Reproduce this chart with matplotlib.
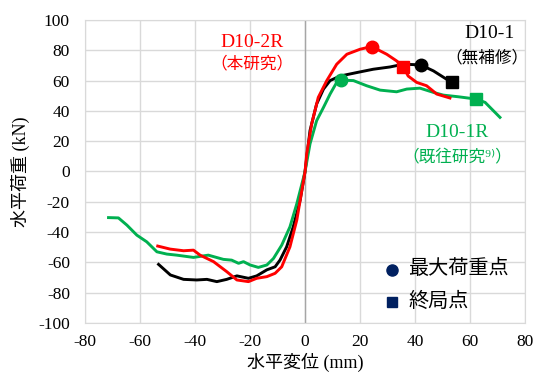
import matplotlib
matplotlib.use("Agg")
import matplotlib.pyplot as plt

plt.rcParams["font.family"] = ["Liberation Serif", "Noto Sans CJK JP", "DejaVu Sans"]
plt.rcParams["axes.unicode_minus"] = False

# D10-1 (black)
x_d101 = [-53.3, -49.0, -44.2, -39.4, -35.7, -32.1, -28.5, -24.8, -20.6, -17.6, -13.9,
          -10.9, -9.1, -6.7, -4.3, -1.8, 0.0, 1.8, 4.2, 6.7, 9.1, 12.7, 18.8, 24.8,
          30.9, 35.7, 42.0, 46.7, 53.3]
y_d101 = [-61.4, -68.4, -71.3, -71.7, -71.3, -72.8, -71.3, -69.0, -70.6, -69.0, -65.0,
          -63.0, -58.5, -49.8, -36.6, -19.0, 0.0, 27.0, 44.5, 54.4, 60.0, 63.0, 65.3, 67.5,
          69.0, 70.8, 70.4, 66.4, 58.8]

# D10-2R (red)
x_d102r = [-53.6, -49.1, -44.2, -40.6, -38.2, -33.3, -28.5, -24.8, -20.6, -17.6, -13.9,
           -10.9, -8.5, -5.5, -3.0, 0.0, 0.6, 2.4, 4.8, 7.9, 11.5, 15.2, 20.0, 24.2,
           29.7, 33.3, 35.8, 37.5, 40.6, 44.2, 47.9, 52.7]
y_d102r = [-49.3, -51.3, -52.4, -52.0, -55.3, -59.6, -66.2, -71.7, -72.8, -70.6, -69.5,
           -67.3, -63.0, -49.8, -32.0, 0.0, 11.6, 31.4, 48.9, 60.0, 70.8, 77.4, 80.7, 82.5,
           77.4, 73.0, 69.0, 63.0, 58.8, 56.6, 51.1, 48.5]

# D10-1R (green)
x_d101r = [-71.5, -67.9, -64.8, -61.2, -57.6, -53.9, -50.3, -46.7, -40.6, -35.2, -29.7,
           -26.7, -24.2, -22.4, -20.0, -17.0, -13.9, -11.5, -8.5, -5.5, -3.0, 0.0, 1.8,
           4.2, 6.7, 9.1, 11.5, 13.0, 17.6, 22.4, 27.3, 33.3, 37.0, 41.8, 46.7, 50.3,
           55.8, 62.2, 65.5, 68.5, 70.9]
y_d101r = [-30.5, -30.7, -35.5, -42.1, -46.5, -53.1, -54.6, -55.3, -56.8, -55.3, -58.1,
           -58.6, -60.7, -59.6, -61.8, -63.4, -61.8, -57.5, -48.7, -36.6, -21.3, 0.0, 18.2,
           33.5, 42.3, 51.1, 58.8, 60.3, 60.0, 56.6, 53.7, 52.6, 54.4, 55.0, 52.2, 50.4,
           49.3, 47.8, 45.6, 40.1, 35.7]

# max load points / final points (D10-1, D10-2R, D10-1R)
peak_x = [42.0, 24.2, 13.0]
peak_y = [70.4, 82.5, 60.3]
final_x = [53.3, 35.8, 62.2]
final_y = [58.8, 69.0, 47.8]
colors = ["black", "#FF0000", "#00B050"]

fig = plt.figure(figsize=(5.39, 3.78), dpi=100)
ax = fig.add_axes([0.158, 0.146, 0.816, 0.801])

ax.plot(x_d101, y_d101, color=colors[0], lw=2.1, zorder=3)
ax.plot(x_d101r, y_d101r, color=colors[2], lw=2.1, zorder=3)
ax.plot(x_d102r, y_d102r, color=colors[1], lw=2.1, zorder=4)
for i in range(3):
    ax.plot(peak_x[i], peak_y[i], "o", color=colors[i], ms=9, zorder=5)
    ax.plot(final_x[i], final_y[i], "s", color=colors[i], ms=8, zorder=5)

ax.set_xlim(-80, 80)
ax.set_ylim(-100, 100)
ax.set_xticks(range(-80, 81, 20))
ax.set_yticks(range(-100, 101, 20))
ax.grid(True, color="#D9D9D9", lw=1)
ax.axvline(0, color="#A6A6A6", lw=1, zorder=2)
for s in ax.spines.values():
    s.set_color("#D9D9D9")
ax.tick_params(length=0, labelsize=12.5)
ax.tick_params(axis="y", pad=11)
ax.tick_params(axis="x", pad=8)
ax.set_xlabel("水平変位 (mm)", fontsize=13, labelpad=2)
ax.set_ylabel("水平荷重 (kN)", fontsize=13, labelpad=6)

ax.text(67, 91, "D10-1", color="black", fontsize=14, ha="center", va="center")
ax.text(66, 74.5, "（無補修）", color="black", fontsize=12, ha="center", va="center")
ax.text(-19.3, 85, "D10-2R", color="#FF0000", fontsize=14, ha="center", va="center")
ax.text(-19.3, 71, "（本研究）", color="#FF0000", fontsize=12, ha="center", va="center")
ax.text(55.3, 26, "D10-1R", color="#00B050", fontsize=14, ha="center", va="center")
ax.text(55.3, 9.5, "（既往研究⁹⁾）", color="#00B050", fontsize=12, ha="center", va="center")

ax.plot(31.6, -65, "o", color="#002060", ms=8, zorder=5)
ax.plot(31.6, -86.5, "s", color="#002060", ms=7, zorder=5)
ax.text(37.5, -65, "最大荷重点", fontsize=14.5, ha="left", va="center")
ax.text(37.5, -86.5, "終局点", fontsize=14.5, ha="left", va="center")

fig.savefig("out.png", dpi=100)
